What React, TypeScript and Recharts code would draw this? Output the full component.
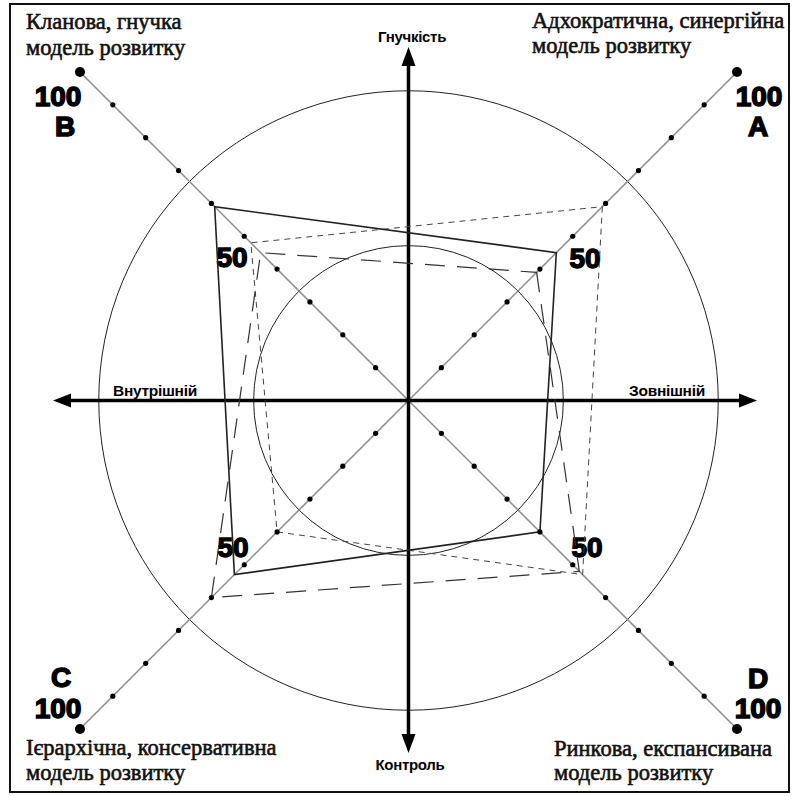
import React from 'react';
import {
  RadarChart,
  Radar,
  PolarGrid,
  PolarAngleAxis,
  PolarRadiusAxis,
  Customized,
} from 'recharts';

// Axes (clockwise from top-right): A, D, C, B
const categories = ['A', 'D', 'C', 'B'];
const solidValues = [45, 40, 53, 59];
const longDashValues = [39, 52, 60, 45];
const shortDashValues = [59, 53, 40, 48];
const markerTicks = [10, 20, 30, 40, 50, 60, 70, 80, 90, 100];
const circleTicks = [100 / 3, 200 / 3];

const data = categories.map((cat, i) => {
  const row: Record<string, any> = {
    cat,
    solid: solidValues[i],
    longDash: longDashValues[i],
    shortDash: shortDashValues[i],
  };
  markerTicks.forEach((t) => {
    row['m' + t] = t;
  });
  return row;
});

const W = 795;
const H = 796;
const CX = 408.5;
const CY = 400.5;

const serif = '"Liberation Serif", "Times New Roman", serif';
const sans = '"Liberation Sans", Arial, sans-serif';

const makeDot = (r: number) => (props: any) => {
  if (props == null || props.cx == null || props.cy == null) return <g key={Math.random()} />;
  return <circle key={`${props.cx}-${props.cy}-${r}`} cx={props.cx} cy={props.cy} r={r} fill="#000" />;
};

const Decorations = () => (
  <g>
    {/* frame */}
    <rect x={10} y={4} width={779} height={788} fill="none" stroke="#111" strokeWidth={2} />
    {/* horizontal axis */}
    <line x1={66} y1={CY} x2={744} y2={CY} stroke="#000" strokeWidth={3.5} />
    <polygon points={`53,${CY} 71,${CY - 7} 71,${CY + 7}`} fill="#000" />
    <polygon points={`757,${CY} 739,${CY - 7} 739,${CY + 7}`} fill="#000" />
    {/* vertical axis */}
    <line x1={CX} y1={60} x2={CX} y2={740} stroke="#000" strokeWidth={3.5} />
    <polygon points={`${CX},47 ${CX - 7},66 ${CX + 7},66`} fill="#000" />
    <polygon points={`${CX},753 ${CX - 7},734 ${CX + 7},734`} fill="#000" />
  </g>
);

const Labels = () => {
  const big = { fontFamily: sans, fontWeight: 900, fontSize: 28, fill: '#000', stroke: '#000', strokeWidth: 1.5, textAnchor: 'middle' as const };
  const mid = { fontFamily: sans, fontWeight: 900, fontSize: 28, fill: '#000', stroke: '#000', strokeWidth: 1.4, textAnchor: 'middle' as const };
  const small = { fontFamily: sans, fontWeight: 700, fontSize: 15, fill: '#000', textAnchor: 'middle' as const, letterSpacing: -0.3 };
  const corner = { fontFamily: serif, fontSize: 22.5, fill: '#111', stroke: '#111', strokeWidth: 0.6 };
  return (
    <g>
      <text x={412} y={42} {...small}>Гнучкість</text>
      <text x={410} y={770} {...small}>Контроль</text>
      <text x={155} y={396} {...small} fontSize={15.5}>Внутрішній</text>
      <text x={667} y={396} {...small} fontSize={15.5}>Зовнішній</text>

      <text x={58} y={106} {...big}>100</text>
      <text x={65} y={136} {...big}>B</text>
      <text x={759} y={106} {...big}>100</text>
      <text x={758} y={136} {...big}>A</text>
      <text x={61} y={687} {...big}>C</text>
      <text x={58} y={718} {...big}>100</text>
      <text x={758} y={688} {...big}>D</text>
      <text x={758} y={718} {...big}>100</text>

      <text x={232} y={267} {...mid}>50</text>
      <text x={585} y={268} {...mid}>50</text>
      <text x={233} y={557} {...mid}>50</text>
      <text x={587} y={557} {...mid}>50</text>

      <text x={26} y={29} {...corner}>Кланова, гнучка</text>
      <text x={26} y={55} {...corner}>модель розвитку</text>
      <text x={532} y={28} {...corner}>Адхократична, синергійна</text>
      <text x={532} y={53} {...corner}>модель розвитку</text>
      <text x={26} y={755} {...corner}>Ієрархічна, консервативна</text>
      <text x={26} y={780} {...corner}>модель розвитку</text>
      <text x={554} y={756} {...corner}>Ринкова, експансивана</text>
      <text x={554} y={780} {...corner}>модель розвитку</text>
    </g>
  );
};

export default function App() {
  return (
    <div style={{ position: 'absolute', left: 0, top: 0, width: W, height: H, background: '#fff' }}>
      <RadarChart
        width={W}
        height={H}
        data={data}
        cx={CX}
        cy={CY}
        outerRadius={464.6}
        startAngle={45}
        endAngle={-315}
        margin={{ top: 0, right: 0, bottom: 0, left: 0 }}
      >
        <PolarGrid gridType="circle" radialLines={false} stroke="#222" strokeWidth={1} />
        <PolarGrid gridType="circle" radialLines={true} polarRadius={[]} stroke="#8a8a8a" strokeWidth={1.5} />
        <PolarAngleAxis dataKey="cat" tick={false} axisLine={false} tickLine={false} />
        <PolarRadiusAxis
          type="number"
          domain={[0, 100]}
          ticks={circleTicks}
          tick={false}
          axisLine={false}
          tickLine={false}
        />
        {markerTicks.map((t) => (
          <Radar
            key={'m' + t}
            dataKey={'m' + t}
            stroke="#000"
            strokeOpacity={0}
            fill="#000"
            fillOpacity={0}
            dot={makeDot(t === 100 ? 5 : 2.6)}
            isAnimationActive={false}
          />
        ))}
        <Radar
          dataKey="shortDash"
          stroke="#444"
          strokeWidth={1}
          strokeDasharray="6 5"
          fill="none"
          fillOpacity={0}
          dot={false}
          isAnimationActive={false}
        />
        <Radar
          dataKey="longDash"
          stroke="#333"
          strokeWidth={1.2}
          strokeDasharray="20 12"
          fill="none"
          fillOpacity={0}
          dot={false}
          isAnimationActive={false}
        />
        <Radar
          dataKey="solid"
          stroke="#222"
          strokeWidth={1.6}
          fill="none"
          fillOpacity={0}
          dot={false}
          isAnimationActive={false}
        />
        <Customized component={Decorations} />
        <Customized component={Labels} />
      </RadarChart>
    </div>
  );
}
